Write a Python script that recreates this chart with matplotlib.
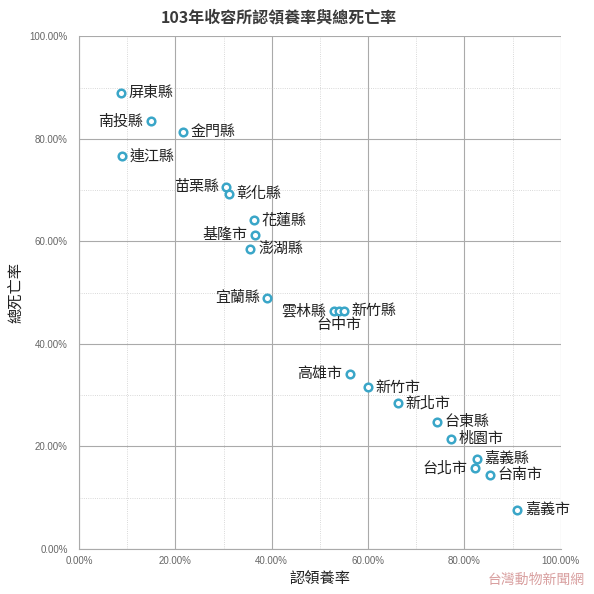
import matplotlib.pyplot as plt
from matplotlib.ticker import MultipleLocator, FuncFormatter

plt.rcParams['font.family'] = ['Noto Sans CJK TC', 'DejaVu Sans']

counties = ['屏東縣', '南投縣', '金門縣', '連江縣', '苗栗縣', '彰化縣', '花蓮縣',
            '基隆市', '澎湖縣', '宜蘭縣', '雲林縣', '台中市', '新竹縣', '高雄市',
            '新竹市', '新北市', '台東縣', '桃園市', '嘉義縣', '台北市', '台南市', '嘉義市']
adoption = [8.7, 14.9, 21.5, 8.9, 30.6, 31.1, 36.4, 36.6, 35.6, 39.1, 53.0, 54.0,
            55.0, 56.3, 59.9, 66.2, 74.3, 77.3, 82.6, 82.3, 85.3, 91.0]
death = [88.9, 83.4, 81.3, 76.6, 70.6, 69.2, 64.1, 61.2, 58.5, 48.9, 46.4, 46.4,
         46.4, 34.1, 31.5, 28.4, 24.8, 21.4, 17.6, 15.7, 14.5, 7.7]
# label side: r = right, l = left, b = below
sides = ['r', 'l', 'r', 'r', 'l', 'r', 'r', 'l', 'r', 'l', 'l', 'b', 'r', 'l',
         'r', 'r', 'r', 'r', 'r', 'l', 'r', 'r']

fig = plt.figure(figsize=(5.94, 5.94), dpi=100)
ax = fig.add_axes([0.133, 0.0758, 0.811, 0.863])

ax.scatter(adoption, death, s=30, facecolor='white', edgecolor='#3aa6c8',
           linewidth=1.8, zorder=3)

for name, x, y, side in zip(counties, adoption, death, sides):
    if side == 'r':
        ax.annotate(name, (x, y), xytext=(5.5, 0), textcoords='offset points',
                    ha='left', va='center', fontsize=10.8, color='#222')
    elif side == 'l':
        ax.annotate(name, (x, y), xytext=(-5.5, 0), textcoords='offset points',
                    ha='right', va='center', fontsize=10.8, color='#222')
    else:
        ax.annotate(name, (x, y), xytext=(0, -5), textcoords='offset points',
                    ha='center', va='top', fontsize=10.8, color='#222')

ax.set_xlim(0, 100)
ax.set_ylim(0, 100)
ax.xaxis.set_major_locator(MultipleLocator(20))
ax.yaxis.set_major_locator(MultipleLocator(20))
ax.xaxis.set_minor_locator(MultipleLocator(10))
ax.yaxis.set_minor_locator(MultipleLocator(10))
pct = FuncFormatter(lambda v, p: f'{v:.2f}%')
ax.xaxis.set_major_formatter(pct)
ax.yaxis.set_major_formatter(pct)
ax.grid(which='major', color='#aaaaaa', linewidth=0.8)
ax.grid(which='minor', color='#cccccc', linewidth=0.6, linestyle=':')
ax.tick_params(which='both', length=0)
ax.tick_params(axis='both', labelsize=7, colors='#666666')
ax.tick_params(axis='y', pad=8)
ax.tick_params(axis='x', pad=5)
for lbl in ax.get_xticklabels() + ax.get_yticklabels():
    lbl.set_family('Liberation Sans')
for s in ['top', 'right']:
    ax.spines[s].set_visible(False)
for s in ['left', 'bottom']:
    ax.spines[s].set_color('#aaaaaa')
ax.set_axisbelow(True)

ax.set_xlabel('認領養率', fontsize=11, color='#222', labelpad=3)
ax.set_ylabel('總死亡率', fontsize=11, color='#222', labelpad=4)
fig.text(0.47, 0.97, '103年收容所認領養率與總死亡率', ha='center', va='center',
         fontsize=11.5, fontweight='bold', color='#3a3a3a')
fig.text(0.985, 0.024, '台灣動物新聞網', ha='right', va='center', fontsize=10,
         color='#d9a0a0')

fig.savefig('out.png', dpi=100)
